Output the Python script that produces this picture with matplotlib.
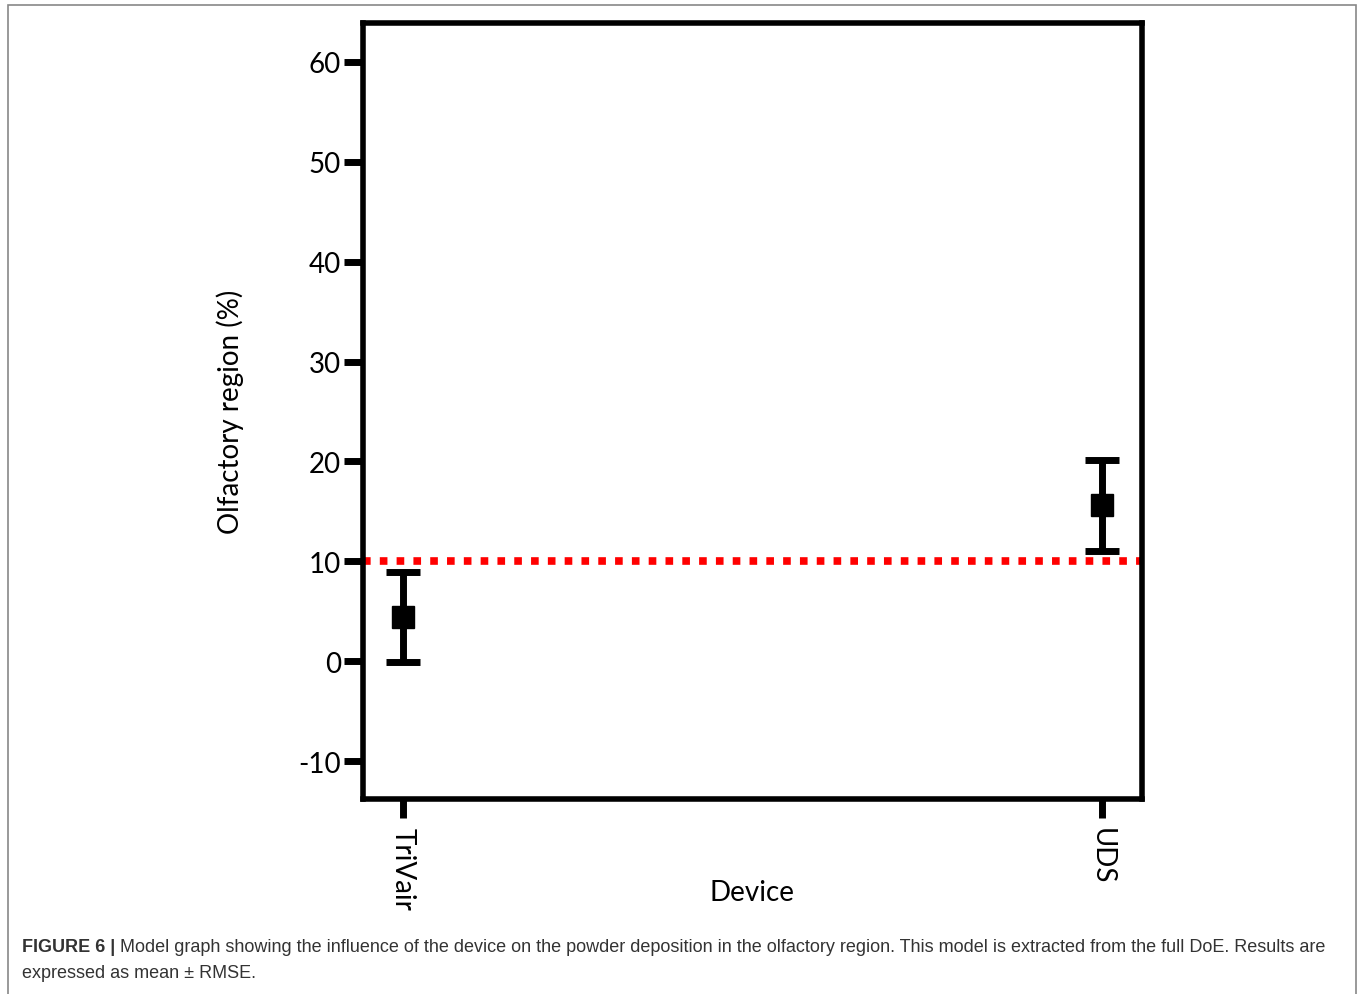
import matplotlib
matplotlib.use("Agg")
import matplotlib.pyplot as plt
from matplotlib.patches import Rectangle

devices = ["TriVair", "UDS"]
means = [4.4, 15.6]
rmse = [4.5, 4.55]
threshold = 10
yticks = [-10, 0, 10, 20, 30, 40, 50, 60]

plt.rcParams['font.family'] = ['Lato', 'DejaVu Sans']

fig = plt.figure(figsize=(13.6, 9.95), dpi=100)
fig.patches.append(Rectangle((8/1360, -0.01), (1356-8)/1360, 1 - 6/995 + 0.01,
                             transform=fig.transFigure, fill=False,
                             edgecolor='#888888', linewidth=1.2))

ax = fig.add_axes([363/1360, 1 - 800/995, (1142-363)/1360, (800-24)/995])
x = list(range(len(devices)))
ax.axhline(threshold, color='#ff0000', linestyle=(0, (1, 1.2)), linewidth=5.5, zorder=1)
ax.errorbar(x, means, yerr=rmse, fmt='s', color='black', markersize=16,
            elinewidth=5, capsize=12, capthick=5, zorder=3)

ax.set_xlim(-0.057, 1.057)
ax.set_ylim(-13.8, 63.9)
ax.set_yticks(yticks)
ax.set_yticklabels([str(t) for t in yticks])
ax.set_xticks(x)
ax.set_xticklabels(devices, rotation=-90)
for s in ax.spines.values():
    s.set_linewidth(4)
ax.tick_params(axis='both', width=5, length=14, labelsize=20, pad=2)
ax.tick_params(axis='x', pad=6)
ax.set_ylabel("Olfactory region (%)", fontsize=20, labelpad=39)
ax.set_xlabel("Device", fontsize=20, labelpad=-22)

cap_kw = dict(fontsize=13, family=['Liberation Sans', 'DejaVu Sans'], color='#333333', va='center')
t1 = fig.text(22/1360, 1 - 948/995, "FIGURE 6 |", fontweight='bold', **cap_kw)
fig.canvas.draw()
bb = t1.get_window_extent()
fig.text((bb.x1 + 5)/1360, 1 - 948/995,
         "Model graph showing the influence of the device on the powder deposition in the olfactory region. This model is extracted from the full DoE. Results are",
         **cap_kw)
fig.text(22/1360, 1 - 974/995, "expressed as mean \u00b1 RMSE.", **cap_kw)

fig.savefig("out.png", dpi=100)
